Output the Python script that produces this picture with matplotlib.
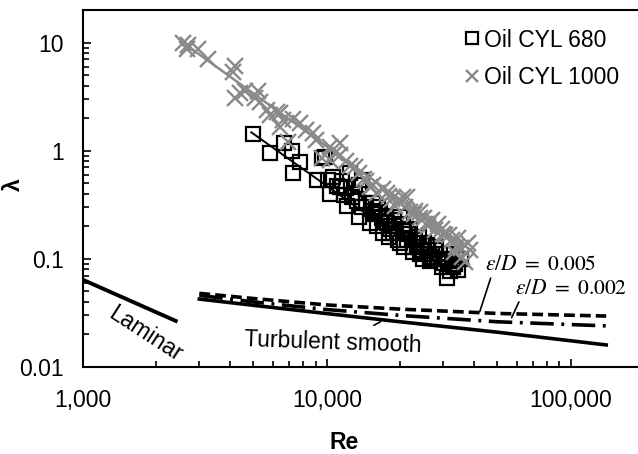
import numpy as np
import matplotlib.pyplot as plt
from matplotlib.ticker import FixedLocator, LogLocator, NullFormatter

plt.rcParams['font.family'] = ['Liberation Sans', 'DejaVu Sans']
plt.rcParams['mathtext.fontset'] = 'stix'

# measured data, Oil CYL 680 (squares)
re_680 = [4980, 5830, 6700, 7170, 7240, 7740, 9540, 9100, 10100, 10300, 11800,
          9800, 12400, 14000, 13000, 12100, 13600, 15000, 15400, 17600, 18600,
          21300, 17000, 22500, 19900, 12700, 11300, 10600, 22500, 25700, 27000,
          29700, 32800, 35600, 34400, 31000, 30300, 16200, 19000, 20500, 23800,
          14500, 16800, 18200, 24500, 26300, 28500, 11000, 13300, 15800, 20000,
          27800, 33500, 30800, 17300, 21000,
          14000, 15500, 16500, 17500, 18000, 19500, 20500, 21500, 22000, 23000,
          23500, 24000, 25000, 26000, 26500, 27500, 28000, 29000, 30000, 31500,
          32000, 33000, 34000, 12000, 13500, 11500, 16000, 18800, 20800, 24800]
lam_680 = [1.42, 0.95, 1.17, 1.00, 0.62, 0.78, 0.85, 0.54, 0.54, 0.40, 0.39,
           0.87, 0.62, 0.54, 0.41, 0.31, 0.245, 0.216, 0.28, 0.216, 0.173,
           0.15, 0.173, 0.129, 0.245, 0.37, 0.46, 0.57, 0.115, 0.135, 0.105,
           0.085, 0.088, 0.10, 0.079, 0.067, 0.092, 0.30, 0.20, 0.18, 0.16,
           0.33, 0.24, 0.19, 0.12, 0.11, 0.10, 0.47, 0.34, 0.26, 0.14,
           0.12, 0.09, 0.11, 0.22, 0.19,
           0.30, 0.33, 0.27, 0.25, 0.16, 0.15, 0.21, 0.17, 0.19, 0.15,
           0.13, 0.11, 0.14, 0.12, 0.095, 0.10, 0.13, 0.11, 0.10, 0.095,
           0.078, 0.085, 0.10, 0.45, 0.48, 0.52, 0.20, 0.23, 0.13, 0.10]

# measured data, Oil CYL 1000 (crosses)
re_1000 = [2570, 2700, 2680, 2960, 3250, 4200, 4120, 4400, 4610, 4200, 5210,
           5060, 5320, 5680, 5840, 6230, 6590, 6420, 6420, 7750, 8770, 10280,
           11300, 6910, 9540, 11300, 10300, 15000, 16000, 17700, 20500, 19000,
           21900, 24000, 26400, 27700, 21300, 24000, 27000, 29700, 31800, 34400,
           35600, 33300, 36800, 12500, 13500, 14200, 18500, 22800, 25500, 30500,
           38000, 8200, 9000, 7300,
           10800, 12000, 13000, 14500, 15500, 17000, 18000, 19500, 21000, 23000,
           25000, 26000, 28500, 30000, 32500, 34000, 38500, 36000]
lam_1000 = [10.0, 9.4, 8.8, 8.8, 7.1, 6.1, 5.3, 3.39, 3.6, 3.1, 3.6,
            3.05, 2.8, 2.36, 2.12, 2.27, 1.91, 1.65, 2.22, 1.79, 1.45, 1.08,
            1.17, 1.20, 0.85, 0.91, 0.82, 0.46, 0.41, 0.41, 0.37, 0.31,
            0.27, 0.24, 0.22, 0.185, 0.37, 0.27, 0.23, 0.19, 0.166, 0.156,
            0.126, 0.116, 0.094, 0.72, 0.62, 0.55, 0.36, 0.26, 0.21, 0.165,
            0.14, 1.55, 1.25, 1.95,
            0.95, 0.80, 0.70, 0.52, 0.48, 0.44, 0.38, 0.34, 0.30, 0.28,
            0.24, 0.20, 0.21, 0.17, 0.15, 0.13, 0.12, 0.105]

# fitted trend lines (end points)
fit_680_re = [4900, 33000]
fit_680_lam = [1.48, 0.07]
fit_1000_re = [2600, 40000]
fit_1000_lam = [9.8, 0.115]

# theoretical curves
lam_re = [1000, 2400]
lam_lam = [0.064, 0.0267]
turb_re = [3000, 5000, 10000, 20000, 50000, 140000]
smooth_lam = [0.0425, 0.0372, 0.0312, 0.0262, 0.0210, 0.0160]
rough005_lam = [0.0480, 0.0430, 0.0375, 0.0343, 0.0313, 0.0296]
rough002_lam = [0.0460, 0.0400, 0.0340, 0.0300, 0.0262, 0.0240]

fig = plt.figure(figsize=(6.38, 4.54), dpi=100)
ax = fig.add_axes([0.1301, 0.1916, 0.8793, 0.7863])
ax.set_xscale('log')
ax.set_yscale('log')

gray = '#8a8a8a'
ax.plot(re_1000, lam_1000, 'x', color=gray, ms=11, mew=1.7, label='Oil CYL 1000', zorder=3)
ax.plot(fit_1000_re, fit_1000_lam, '-', color=gray, lw=1.8, zorder=3)
ax.plot(re_680, lam_680, 's', mfc='none', mec='black', ms=10.5, mew=1.6, label='Oil CYL 680', zorder=2)
ax.plot(fit_680_re, fit_680_lam, '-', color='black', lw=1.4, zorder=2)

ax.plot(lam_re, lam_lam, '-', color='black', lw=2.8)
ax.plot(turb_re, smooth_lam, '-', color='black', lw=2.6)
ax.plot(turb_re, rough005_lam, color='black', lw=2.6, dashes=(3.0, 1.4))
ax.plot(turb_re, rough002_lam, color='black', lw=2.6, dashes=(6.5, 2.1, 0.8, 2.1))

ax.set_xlim(1000, 200000)
ax.set_ylim(0.01, 20)

ax.xaxis.set_major_locator(FixedLocator([1000, 10000, 100000]))
ax.set_xticklabels(['1,000', '10,000', '100,000'])
ax.xaxis.set_minor_locator(LogLocator(base=10, subs=np.arange(2, 10)))
ax.xaxis.set_minor_formatter(NullFormatter())
ax.yaxis.set_major_locator(FixedLocator([0.01, 0.1, 1, 10]))
ax.set_yticklabels(['0.01', '0.1', '1', '10'])
ax.yaxis.set_minor_locator(LogLocator(base=10, subs=np.arange(2, 10)))
ax.yaxis.set_minor_formatter(NullFormatter())

ax.tick_params(which='both', direction='in', top=False, right=False, width=1.2, labelsize=16.5)
ax.tick_params(axis='x', which='both', pad=16)
ax.tick_params(axis='y', which='both', pad=14)
ax.tick_params(which='major', length=6)
ax.tick_params(which='minor', length=4)
for s in ax.spines.values():
    s.set_linewidth(1.5)

ax.set_xlabel('Re', fontsize=16.5, fontweight='bold')
ax.set_ylabel('λ', fontsize=16.5, fontweight='bold')
ax.xaxis.set_label_coords(0.466, -0.178)
ax.yaxis.set_label_coords(-0.103, 0.51)

handles, labels = ax.get_legend_handles_labels()
ax.legend(handles[::-1], labels[::-1], loc='upper left', bbox_to_anchor=(0.645, 1.006),
          frameon=False, fontsize=16.5, handlelength=0.55, handletextpad=0.25,
          markerscale=0.8, labelspacing=0.62)

ax.text(1795, 0.020, 'Laminar', fontsize=16.5, rotation=-33, ha='center', va='center')
ax.annotate('Turbulent smooth', xy=(16600, 0.0262), xytext=(10600, 0.0168),
            fontsize=16.5, rotation=-2, ha='center', va='center',
            arrowprops=dict(arrowstyle='-', color='black', lw=1.2, shrinkA=0, shrinkB=0,
                            relpos=(0.7, 1.0)))
ax.annotate(r'$\varepsilon/D\ =\ 0.005$', xy=(42400, 0.0325), xytext=(44500, 0.088),
            fontsize=15.5, ha='left', va='center',
            arrowprops=dict(arrowstyle='-', color='black', lw=1.2, shrinkA=0, shrinkB=0,
                            relpos=(0.06, 0.0)))
ax.annotate(r'$\varepsilon/D\ =\ 0.002$', xy=(57300, 0.0286), xytext=(58900, 0.053),
            fontsize=15.5, ha='left', va='center',
            arrowprops=dict(arrowstyle='-', color='black', lw=1.2, shrinkA=0, shrinkB=0,
                            relpos=(0.05, 0.0)))

fig.savefig('out.png', dpi=100)
